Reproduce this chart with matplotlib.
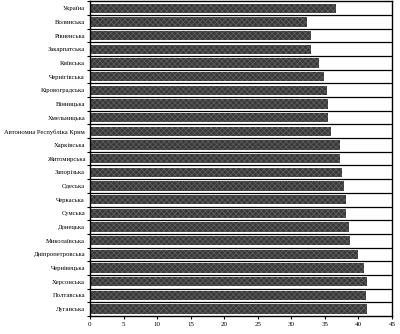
import matplotlib
matplotlib.use("Agg")
import matplotlib.pyplot as plt
import numpy as np

regions = ["Україна", "Волинська", "Рівненська", "Закарпатська", "Київська",
           "Чернігівська", "Кіровоградська", "Вінницька", "Хмельницька",
           "Автономна Республіка Крим", "Харківська", "Житомирська", "Запорізька",
           "Одеська", "Черкаська", "Сумська", "Донецька", "Миколаївська",
           "Дніпропетровська", "Чернівецька", "Херсонська", "Полтавська", "Луганська"]
values = [36.7, 32.3, 32.9, 33.0, 34.1, 34.8, 35.3, 35.4, 35.4, 35.9, 37.3, 37.3,
          37.6, 37.8, 38.2, 38.2, 38.6, 38.7, 40.0, 40.8, 41.3, 41.2, 41.3]
xticks = [0, 5, 10, 15, 20, 25, 30, 35, 40, 45]

plt.rcParams['font.family'] = ['Liberation Serif', 'DejaVu Serif']
plt.rcParams['hatch.linewidth'] = 0.6

fig = plt.figure(figsize=(4.0, 3.34), dpi=100)
ax = fig.add_axes([0.225, 0.054, 0.755, 0.942])

n = len(regions)
y = np.arange(n)
ax.barh(y, values, height=0.68, color='#383838', hatch='xxxxxx', edgecolor='#5c5c5c', linewidth=0)

for b in np.arange(n - 1) + 0.5:
    ax.axhline(b, color='black', linewidth=0.9)

ax.set_ylim(n - 0.5, -0.5)
ax.set_xlim(0, 45)
ax.set_xticks(xticks)
ax.set_xticklabels([str(t) for t in xticks], fontsize=5)
ax.set_yticks(y)
ax.set_yticklabels(regions, fontsize=4.8)
ax.tick_params(axis='y', length=0, pad=3.5)
ax.set_yticks(np.arange(n + 1) - 0.5, minor=True)
ax.tick_params(axis='y', which='minor', length=2, width=0.8)
ax.tick_params(axis='x', length=2.5, width=0.8, pad=2)
for s in ax.spines.values():
    s.set_linewidth(1.0)

fig.savefig("out.png", dpi=100)
